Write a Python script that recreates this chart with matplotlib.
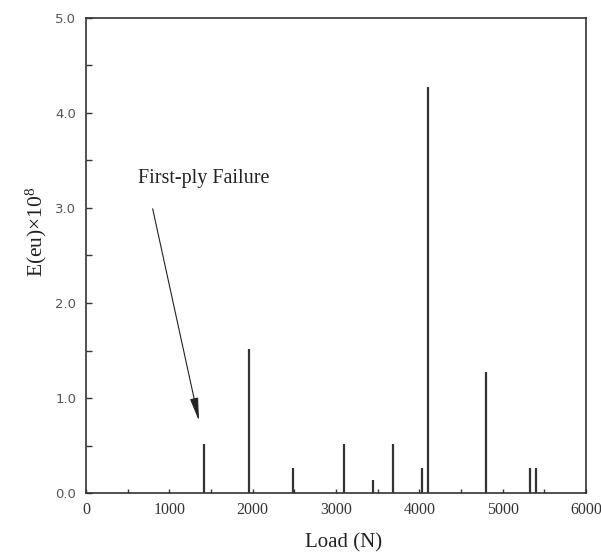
import matplotlib.pyplot as plt
from matplotlib.ticker import MultipleLocator

# AE energy events vs. applied load
load = [1420, 1960, 2490, 3100, 3450, 3680, 4030, 4100, 4800, 5330, 5400]
energy = [0.52, 1.52, 0.27, 0.52, 0.14, 0.52, 0.27, 4.27, 1.27, 0.27, 0.27]

x_ticks = [0, 1000, 2000, 3000, 4000, 5000, 6000]
y_ticks = [0.0, 1.0, 2.0, 3.0, 4.0, 5.0]

LINE = '#333333'
SERIF = ['Liberation Serif', 'DejaVu Serif']

fig = plt.figure(figsize=(6.01, 5.56), dpi=100)
ax = fig.add_axes([0.1431, 0.1128, 0.8319, 0.8557])

ax.vlines(load, 0, energy, color=LINE, lw=1.6)

ax.set_xlim(0, 6000)
ax.set_ylim(0, 5.0)

ax.set_xticks(x_ticks)
ax.set_xticklabels([str(v) for v in x_ticks], family=SERIF, fontsize=11.5, color='#333333')
ax.xaxis.set_minor_locator(MultipleLocator(500))
ax.set_yticks(y_ticks)
ax.set_yticklabels([f'{v:.1f}' for v in y_ticks], family='DejaVu Sans', fontsize=9.5, color='#555555')
ax.yaxis.set_minor_locator(MultipleLocator(0.5))

ax.tick_params(axis='x', which='both', direction='in', length=3.2, width=1.0,
               color=LINE, pad=6)
ax.tick_params(axis='y', which='both', direction='in', length=4.2, width=1.0,
               color=LINE, pad=7)

for s in ax.spines.values():
    s.set_color(LINE)
    s.set_linewidth(1.2)

ax.set_xlabel('Load (N)', family=SERIF, fontsize=15, color='#222222')
ax.xaxis.set_label_coords(0.515, -0.085)
ax.set_ylabel(r'E(eu)×10$\mathregular{^8}$', family=SERIF, fontsize=15.5, color='#222222')
ax.yaxis.set_label_coords(-0.075, 0.55)

# label and the arrow pointing at the first-ply failure event
ax.text(1410, 3.31, 'First-ply Failure', family=SERIF, fontsize=14.5,
        color='#222222', ha='center', va='center')
ax.annotate('', xy=(1356, 0.76), xytext=(800, 2.99),
            arrowprops=dict(arrowstyle='-|>,head_length=1.4,head_width=0.25',
                            color='#222222', lw=0.8, shrinkA=0, shrinkB=0))

fig.savefig('out.png', dpi=100, facecolor='white')
